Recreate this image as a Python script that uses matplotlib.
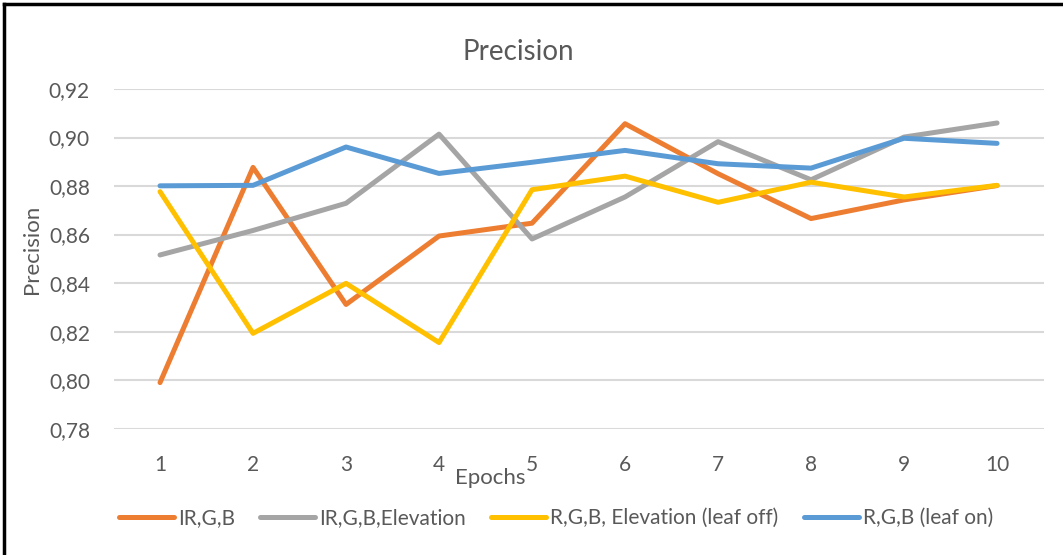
import matplotlib.pyplot as plt
from matplotlib.lines import Line2D
from matplotlib.ticker import FuncFormatter

plt.rcParams["font.family"] = ["Lato", "DejaVu Sans"]

# data
epochs = [1, 2, 3, 4, 5, 6, 7, 8, 9, 10]
ir_g_b = [0.799, 0.8877, 0.8312, 0.8594, 0.8647, 0.9057, 0.8851, 0.8666, 0.8743, 0.8802]
ir_g_b_elev = [0.8516, 0.8617, 0.8729, 0.9014, 0.8582, 0.8755, 0.8983, 0.8826, 0.9002, 0.9060]
rgb_elev_off = [0.8777, 0.8193, 0.8399, 0.8155, 0.8785, 0.8841, 0.8733, 0.8816, 0.8755, 0.8803]
rgb_leaf_on = [0.8801, 0.8803, 0.8961, 0.8852, 0.8898, 0.8947, 0.8892, 0.8874, 0.8997, 0.8976]

series = [
    ("IR,G,B", ir_g_b, "#ED7D31"),
    ("IR,G,B,Elevation", ir_g_b_elev, "#A5A5A5"),
    ("R,G,B, Elevation (leaf off)", rgb_elev_off, "#FFC000"),
    ("R,G,B (leaf on)", rgb_leaf_on, "#5B9BD5"),
]
yticks = [0.78, 0.80, 0.82, 0.84, 0.86, 0.88, 0.90, 0.92]

txt = "#595959"

fig = plt.figure(figsize=(10.63, 5.55), dpi=100)
ax = fig.add_axes([0.1068, 0.2276, 0.8749, 0.612])

for label, vals, col in series:
    ax.plot(epochs, vals, color=col, lw=3.6, label=label,
            solid_capstyle="round", solid_joinstyle="round")

ax.set_xlim(0.5, 10.5)
ax.set_ylim(0.78, 0.92)
ax.set_yticks(yticks)
ax.set_xticks(epochs)
ax.yaxis.set_major_formatter(FuncFormatter(lambda v, p: f"{v:.2f}".replace(".", ",")))
ax.grid(axis="y", color="#D9D9D9", lw=1.5)
ax.set_axisbelow(True)
for s in ax.spines.values():
    s.set_visible(False)
ax.tick_params(length=0, labelsize=15, colors=txt)
ax.tick_params(axis="y", pad=17)
ax.tick_params(axis="x", pad=19)

fig.text(0.488, 0.907, "Precision", ha="center", va="center", fontsize=20, color=txt)
fig.text(0.461, 0.139, "Epochs", ha="center", va="center", fontsize=16, color=txt)
fig.text(0.030, 0.55, "Precision", ha="center", va="center", rotation=90,
         fontsize=16, color=txt)

handles = [Line2D([], [], color=c, lw=3.6, solid_capstyle="round") for _, _, c in series]
fig.legend(handles, [s[0] for s in series], loc="center", bbox_to_anchor=(0.523, 0.067),
           ncol=4, frameon=False, fontsize=15, handlelength=2.65, handletextpad=0.2,
           columnspacing=1.2, labelcolor=txt)

# outer chart border (left and top visible in the reference)
fig.add_artist(Line2D([0.004, 0.004], [0, 0.993], color="black", lw=2.5,
                      transform=fig.transFigure))
fig.add_artist(Line2D([0.004, 1.0], [0.993, 0.993], color="black", lw=2.5,
                      transform=fig.transFigure))

fig.savefig("out.png", dpi=100)
